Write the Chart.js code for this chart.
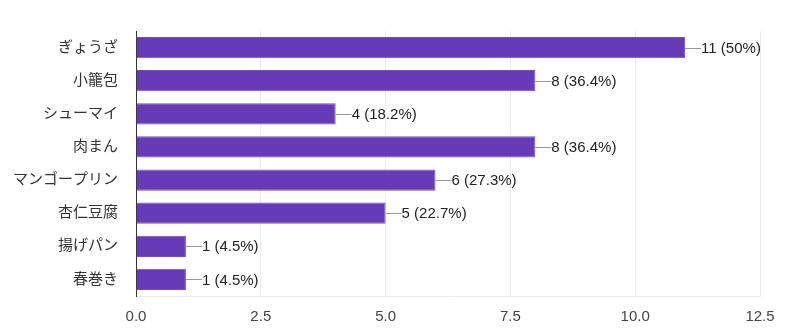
<!DOCTYPE html>
<html>
<head>
<meta charset="utf-8">
<script src="https://cdn.jsdelivr.net/npm/chart.js@4"></script>
<style>
  html, body { margin: 0; padding: 0; background: #fff; }
  #wrap { width: 800px; height: 330px; }
</style>
</head>
<body>
<div id="wrap"><canvas id="chart"></canvas></div>
<script>
const categories = ["ぎょうざ", "小籠包", "シューマイ", "肉まん", "マンゴープリン", "杏仁豆腐", "揚げパン", "春巻き"];
const counts = [11, 8, 4, 8, 6, 5, 1, 1];
const percents = ["50%", "36.4%", "18.2%", "36.4%", "27.3%", "22.7%", "4.5%", "4.5%"];
const xTicks = [0, 2.5, 5, 7.5, 10, 12.5];

const FONT = "Arial, 'Liberation Sans', 'Noto Sans CJK JP', sans-serif";

const valueLabels = {
    id: "valueLabels",
    afterDatasetsDraw(chart) {
        const ctx = chart.ctx;
        const meta = chart.getDatasetMeta(0);
        ctx.save();
        ctx.font = "15px " + FONT;
        ctx.textBaseline = "middle";
        ctx.textAlign = "left";
        meta.data.forEach((bar, i) => {
            const x = bar.x;
            const y = bar.y;
            ctx.strokeStyle = "#999";
            ctx.lineWidth = 1;
            ctx.beginPath();
            ctx.moveTo(x, Math.round(y) + 0.5);
            ctx.lineTo(x + 16, Math.round(y) + 0.5);
            ctx.stroke();
            ctx.fillStyle = "#222";
            ctx.fillText(counts[i] + " (" + percents[i] + ")", x + 16, y + 1);
        });
        ctx.restore();
    },
};

new Chart(document.getElementById("chart"), {
    type: "bar",
    data: {
        labels: categories,
        datasets: [
            {
                data: counts,
                backgroundColor: "#673ab7",
                borderColor: "#7450bd",
                borderWidth: 1,
                barPercentage: 0.64,
                categoryPercentage: 1,
            },
        ],
    },
    options: {
        indexAxis: "y",
        responsive: true,
        maintainAspectRatio: false,
        animation: false,
        layout: {
            padding: { top: 31, right: 40, left: 0, bottom: 0 },
        },
        plugins: {
            legend: { display: false },
            tooltip: { enabled: false },
        },
        scales: {
            x: {
                min: 0,
                max: 12.5,
                afterBuildTicks(scale) {
                    scale.ticks = xTicks.map((v) => ({ value: v }));
                },
                afterFit(scale) {
                    scale.height = 34;
                },
                ticks: {
                    color: "#444",
                    font: { size: 15, family: FONT },
                    padding: 12,
                    callback: (v) => Number(v).toFixed(1),
                },
                grid: {
                    color: "#ebebeb",
                    drawTicks: false,
                },
                border: { display: true, color: "#ebebeb" },
            },
            y: {
                afterFit(scale) {
                    scale.width = 136;
                },
                ticks: {
                    color: "#333",
                    font: { size: 15, family: FONT },
                    padding: 18,
                },
                grid: { display: false, drawTicks: false },
                border: { display: true, color: "#333", width: 1 },
            },
        },
    },
    plugins: [valueLabels],
});
</script>
</body>
</html>
